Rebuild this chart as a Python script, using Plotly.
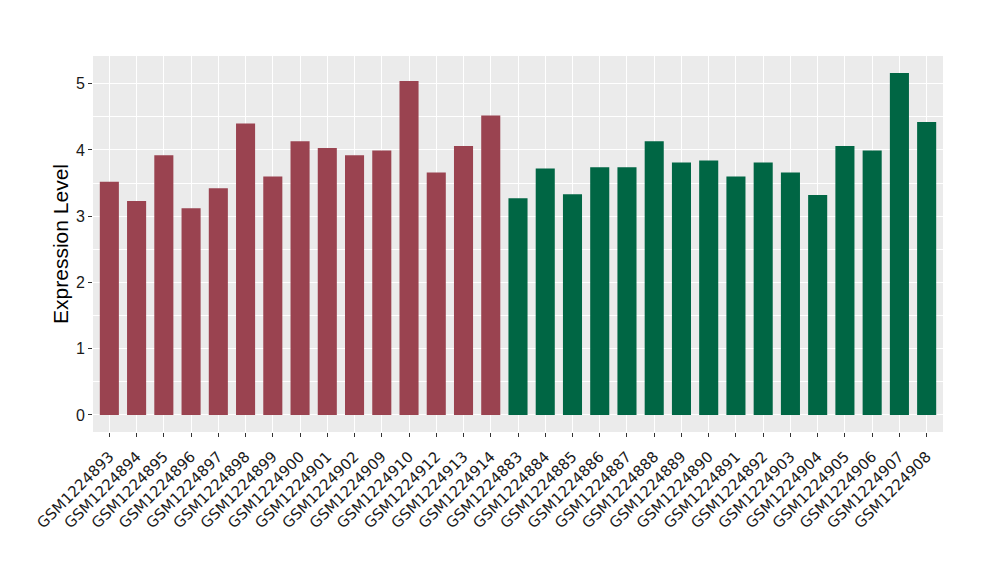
import plotly.graph_objects as go

samples_group1 = ["GSM1224893", "GSM1224894", "GSM1224895", "GSM1224896", "GSM1224897",
                  "GSM1224898", "GSM1224899", "GSM1224900", "GSM1224901", "GSM1224902",
                  "GSM1224909", "GSM1224910", "GSM1224912", "GSM1224913", "GSM1224914"]
values_group1 = [3.52, 3.23, 3.92, 3.12, 3.42, 4.40, 3.60, 4.13, 4.03, 3.92,
                 3.99, 5.04, 3.66, 4.06, 4.52]

samples_group2 = ["GSM1224883", "GSM1224884", "GSM1224885", "GSM1224886", "GSM1224887",
                  "GSM1224888", "GSM1224889", "GSM1224890", "GSM1224891", "GSM1224892",
                  "GSM1224903", "GSM1224904", "GSM1224905", "GSM1224906", "GSM1224907",
                  "GSM1224908"]
values_group2 = [3.27, 3.72, 3.33, 3.74, 3.74, 4.13, 3.81, 3.84, 3.60, 3.81,
                 3.66, 3.32, 4.06, 3.99, 5.16, 4.42]

y_ticks = [0, 1, 2, 3, 4, 5]

color1 = "#9A4350"
color2 = "#006644"

all_samples = samples_group1 + samples_group2

fig = go.Figure()
fig.add_trace(go.Bar(x=samples_group1, y=values_group1, marker=dict(color=color1, line=dict(width=0)),
                     width=0.7, showlegend=False))
fig.add_trace(go.Bar(x=samples_group2, y=values_group2, marker=dict(color=color2, line=dict(width=0)),
                     width=0.7, showlegend=False))

# page body has an 8px margin, so the figure is offset by 8px
fig.update_layout(
    width=1000, height=580,
    margin=dict(l=85, r=65, t=48, b=156),
    paper_bgcolor="white",
    plot_bgcolor="#EBEBEB",
    bargap=0.3,
    xaxis=dict(
        categoryorder="array", categoryarray=all_samples,
        range=[-0.6, len(all_samples) - 0.4],
        tickangle=-45,
        automargin=False,
        tickfont=dict(family="DejaVu Sans", size=15, color="#1A1A1A"),
        ticklabelstandoff=5,
        showgrid=True, gridcolor="white", gridwidth=1.1,
        ticks="outside", ticklen=4, tickcolor="#333333", tickwidth=1,
        zeroline=False, showline=False,
    ),
    yaxis=dict(
        range=[-0.258, 5.418],
        tickvals=y_ticks,
        automargin=False,
        tickfont=dict(family="Liberation Sans", size=16, color="#1A1A1A"),
        title=dict(text="Expression Level", font=dict(family="Liberation Sans", size=21, color="black"),
                   standoff=1),
        showgrid=True, gridcolor="white", gridwidth=1.1,
        minor=dict(dtick=0.5, tick0=0, showgrid=True, gridcolor="white", gridwidth=0.5),
        ticks="outside", ticklen=4, tickcolor="#333333", tickwidth=1,
        zeroline=False, showline=False,
    ),
)

fig.write_html("out.html")
